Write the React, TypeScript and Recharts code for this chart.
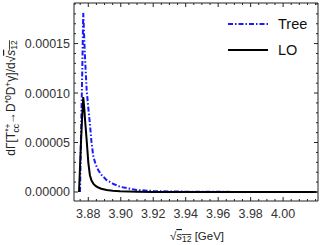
import React from "react";
import { LineChart, Line, XAxis, YAxis } from "recharts";

// sqrt(s12) in GeV
const sqrtS = [
  3.8743, 3.8749, 3.8755, 3.8762, 3.8769, 3.8775, 3.878, 3.879, 3.88, 3.881,
  3.882, 3.8831, 3.8845, 3.8862, 3.888, 3.8913, 3.895, 3.8995, 3.905, 3.91,
  3.92, 3.93, 3.95, 3.97, 3.99, 4.01, 4.0207,
];
const treeVals = [
  null, 0, 5.5e-5, 11.5e-5, 18.1e-5, 15.5e-5, 13.5e-5, 10.3e-5, 8.5e-5, 6.9e-5,
  5.0e-5, 3.6e-5, 2.8e-5, 2.2e-5, 1.75e-5, 1.2e-5, 0.85e-5, 0.53e-5, 0.35e-5, 0.2e-5,
  0.1e-5, 0.05e-5, 0.02e-5, 0.01e-5, 0, 0, 0,
];
const loVals = [
  0, 2.5e-5, 5.0e-5, 7.5e-5, 9.6e-5, 8.5e-5, 7.3e-5, 5.25e-5, 3.0e-5, 1.7e-5,
  1.15e-5, 0.85e-5, 0.62e-5, 0.45e-5, 0.33e-5, 0.2e-5, 0.12e-5, 0.07e-5, 0.04e-5, 0.025e-5,
  0.01e-5, 0, 0, 0, 0, 0, 0,
];

const xMajor = [3.88, 3.9, 3.92, 3.94, 3.96, 3.98, 4.0];
const xMinor = [
  3.875, 3.885, 3.89, 3.895, 3.905, 3.91, 3.915, 3.925, 3.93, 3.935, 3.945, 3.95,
  3.955, 3.965, 3.97, 3.975, 3.985, 3.99, 3.995, 4.005, 4.01, 4.015, 4.02,
];
const yMajor = [0, 0.00005, 0.0001, 0.00015];
const yMinor = [
  0.00001, 0.00002, 0.00003, 0.00004, 0.00006, 0.00007, 0.00008, 0.00009,
  0.00011, 0.00012, 0.00013, 0.00014, 0.00016, 0.00017, 0.00018, 0.00019,
];

const legendItems = [
  { name: "Tree", color: "#1a1aff", dash: "5 2 1.5 2" },
  { name: "LO", color: "#000", dash: undefined },
];

const data = sqrtS.map((x, i) => ({ x, tree: treeVals[i], lo: loVals[i] }));

const X_DOMAIN: [number, number] = [3.8712, 4.0215];
const Y_DOMAIN: [number, number] = [-0.0000091, 0.000191];
const FRAME = "#222";
const FONT = "'Liberation Sans', Arial, sans-serif";

const isMajor = (v: number, majors: number[]) => majors.some((m) => Math.abs(m - v) < 1e-9);

function FrameTick(props: any) {
  const { x, y, payload, side, majors, margin } = props;
  const v = payload.value as number;
  const major = isMajor(v, majors);
  const len = major ? 4 : 2;
  if (side === "bottom") {
    const y0 = y - margin;
    return (
      <g>
        <line x1={x} x2={x} y1={y0} y2={y0 - len} stroke={FRAME} />
        {major && (
          <text x={x} y={y + 9.5} textAnchor="middle" fontSize={12.5} fill="#333" fontFamily={FONT}>
            {v.toFixed(2)}
          </text>
        )}
      </g>
    );
  }
  if (side === "left") {
    const x0 = x + margin;
    return (
      <g>
        <line x1={x0} x2={x0 + len} y1={y} y2={y} stroke={FRAME} />
        {major && (
          <text x={x} y={y + 4.5} textAnchor="end" fontSize={12.5} fill="#333" fontFamily={FONT}>
            {v.toFixed(5)}
          </text>
        )}
      </g>
    );
  }
  if (side === "top") {
    return <line x1={x} x2={x} y1={y} y2={y + len} stroke={FRAME} />;
  }
  return <line x1={x} x2={x - len} y1={y} y2={y} stroke={FRAME} />;
}

function LegendBox() {
  return (
    <div style={{ position: "absolute", left: 228, top: 11, fontFamily: FONT, fontSize: 14.5, color: "#111" }}>
      {legendItems.map((r) => (
        <div key={r.name} style={{ display: "flex", alignItems: "center", height: 26 }}>
          <svg width={50} height={10}>
            <line x1={0} x2={40} y1={5} y2={5} stroke={r.color} strokeWidth={2} strokeDasharray={r.dash} />
          </svg>
          <span>{r.name}</span>
        </div>
      ))}
    </div>
  );
}

function YLabel() {
  return (
    <text transform="translate(15,98) rotate(-90)" textAnchor="middle" fontSize={12} fill="#222" fontFamily={FONT}>
      dΓ[T
      <tspan dy={-4.5} fontSize={8.5}>*+</tspan>
      <tspan dx={-9} dy={8} fontSize={8.5}>cc</tspan>
      <tspan dy={-3.5}>→D</tspan>
      <tspan dy={-4.5} fontSize={8.5}>*0</tspan>
      <tspan dy={4.5}>D</tspan>
      <tspan dy={-4.5} fontSize={8.5}>+</tspan>
      <tspan dy={4.5}>γ]/d√</tspan>
      <tspan textDecoration="overline" fontStyle="italic">s</tspan>
      <tspan dy={2} fontSize={8.5} textDecoration="overline">12</tspan>
    </text>
  );
}

function XLabel() {
  return (
    <text x={197} y={240} textAnchor="middle" fontSize={11.5} fill="#222" fontFamily={FONT}>
      √
      <tspan textDecoration="overline" fontStyle="italic">s</tspan>
      <tspan dy={2} fontSize={8.5} textDecoration="overline">12</tspan>
      <tspan dy={-2}> [GeV]</tspan>
    </text>
  );
}

export default function App() {
  return (
    <div style={{ position: "fixed", left: 0, top: 0, width: 326, height: 245, background: "#fff" }}>
      <LineChart width={326} height={245} data={data} margin={{ top: 2, right: 7, bottom: 0, left: 0 }}>
        <XAxis
          xAxisId="x"
          dataKey="x"
          type="number"
          domain={X_DOMAIN}
          allowDataOverflow
          ticks={[...xMajor, ...xMinor]}
          interval={0}
          height={44}
          tickSize={0}
          tickMargin={7}
          tickLine={false}
          axisLine={{ stroke: FRAME }}
          tick={(p: any) => <FrameTick {...p} side="bottom" majors={xMajor} margin={7} />}
          label={{ content: () => <XLabel /> }}
        />
        <XAxis
          xAxisId="top"
          dataKey="x"
          orientation="top"
          type="number"
          domain={X_DOMAIN}
          allowDataOverflow
          ticks={[...xMajor, ...xMinor]}
          interval={0}
          height={1}
          tickSize={0}
          tickMargin={0}
          tickLine={false}
          axisLine={{ stroke: FRAME }}
          tick={(p: any) => <FrameTick {...p} side="top" majors={xMajor} margin={0} />}
        />
        <YAxis
          yAxisId="y"
          type="number"
          domain={Y_DOMAIN}
          allowDataOverflow
          ticks={[...yMajor, ...yMinor]}
          interval={0}
          width={74}
          tickSize={0}
          tickMargin={4}
          tickLine={false}
          axisLine={{ stroke: FRAME }}
          tick={(p: any) => <FrameTick {...p} side="left" majors={yMajor} margin={4} />}
          label={{ content: () => <YLabel /> }}
        />
        <YAxis
          yAxisId="right"
          orientation="right"
          type="number"
          domain={Y_DOMAIN}
          allowDataOverflow
          ticks={[...yMajor, ...yMinor]}
          interval={0}
          width={1}
          tickSize={0}
          tickMargin={0}
          tickLine={false}
          axisLine={{ stroke: FRAME }}
          tick={(p: any) => <FrameTick {...p} side="right" majors={yMajor} margin={0} />}
        />
        {/* invisible series so the top and right frame axes get drawn */}
        <Line
          xAxisId="top"
          yAxisId="right"
          dataKey="lo"
          stroke="none"
          dot={false}
          activeDot={false}
          isAnimationActive={false}
        />
        <Line
          xAxisId="x"
          yAxisId="y"
          dataKey="tree"
          type="linear"
          stroke="#1a1aff"
          strokeWidth={2}
          strokeDasharray="5 2 1.5 2"
          dot={false}
          isAnimationActive={false}
        />
        <Line
          xAxisId="x"
          yAxisId="y"
          dataKey="lo"
          type="linear"
          stroke="#000"
          strokeWidth={2}
          dot={false}
          isAnimationActive={false}
        />
      </LineChart>
      <LegendBox />
    </div>
  );
}
